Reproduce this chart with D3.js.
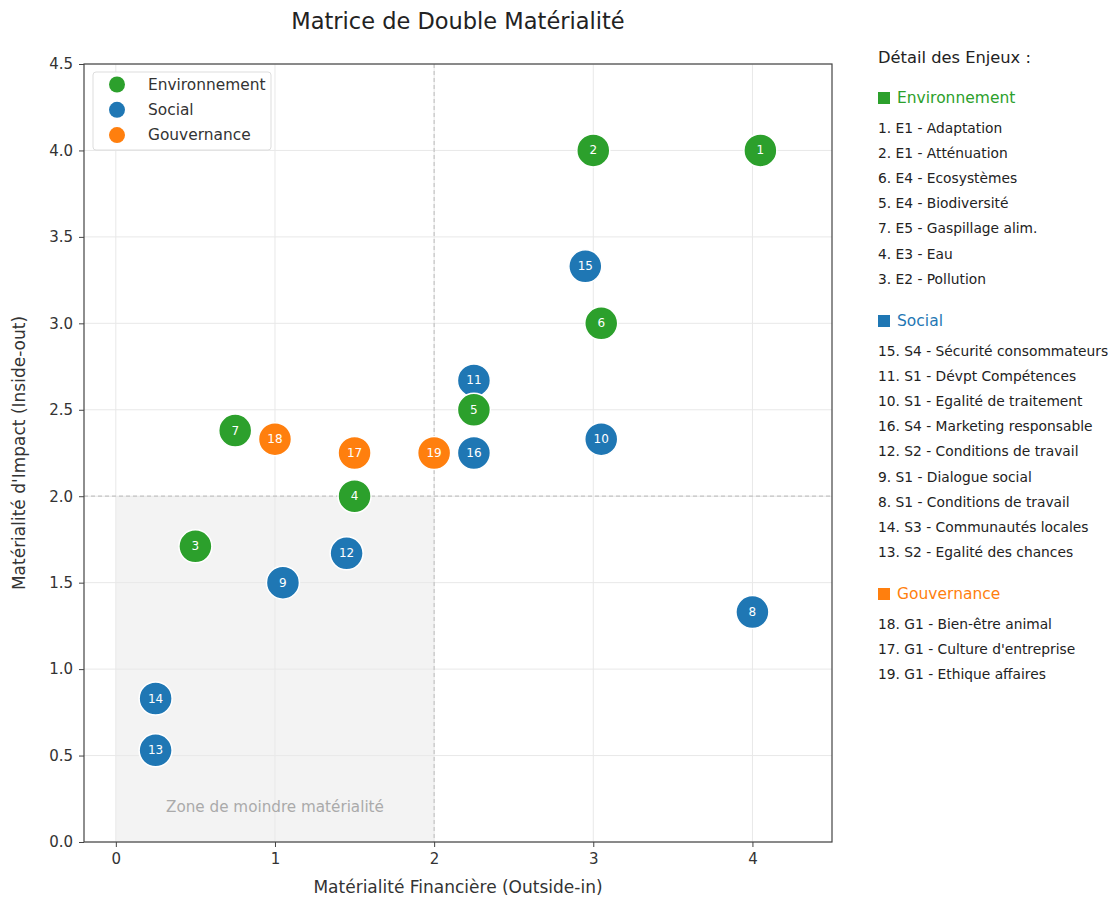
<!DOCTYPE html>
<html><head><meta charset="utf-8">
<script src="https://cdn.jsdelivr.net/npm/d3@7"></script>
<style>
body{margin:0;background:#fff;}
text{font-family:"DejaVu Sans",sans-serif;}
</style></head>
<body><svg id="c" width="1113" height="901"></svg>
<script>
const ids = [1,2,15,6,11,5,10,16,19,17,18,7,4,3,12,9,8,14,13];
const groups = ["E","E","S","E","S","E","S","S","G","G","G","E","E","E","S","S","S","S","S"];
const xFin = [4.05,3.0,2.95,3.05,2.25,2.25,3.05,2.25,2.0,1.5,1.0,0.75,1.5,0.5,1.45,1.05,4.0,0.25,0.25];
const yImp = [4.0,4.0,3.33,3.0,2.67,2.5,2.33,2.25,2.25,2.25,2.33,2.38,2.0,1.71,1.67,1.5,1.33,0.83,0.53];
const groupNames = ["Environnement","Social","Gouvernance"];
const groupKeys = ["E","S","G"];
const groupColors = ["#2ca02c","#1f77b4","#ff7f0e"];
const xTicks = [0,1,2,3,4];
const yTicks = [0,0.5,1,1.5,2,2.5,3,3.5,4,4.5];
const envItems = ["1. E1 - Adaptation","2. E1 - Atténuation","6. E4 - Ecosystèmes","5. E4 - Biodiversité","7. E5 - Gaspillage alim.","4. E3 - Eau","3. E2 - Pollution"];
const socItems = ["15. S4 - Sécurité consommateurs","11. S1 - Dévpt Compétences","10. S1 - Egalité de traitement","16. S4 - Marketing responsable","12. S2 - Conditions de travail","9. S1 - Dialogue social","8. S1 - Conditions de travail","14. S3 - Communautés locales","13. S2 - Egalité des chances"];
const govItems = ["18. G1 - Bien-être animal","17. G1 - Culture d'entreprise","19. G1 - Ethique affaires"];

const svg = d3.select("#c");
const L=84, R=832, T=64, B=842;
const x = d3.scaleLinear().domain([-0.2,4.5]).range([L,R]);
const y = d3.scaleLinear().domain([0,4.5]).range([B,T]);
const col = d3.scaleOrdinal().domain(groupKeys).range(groupColors);

// low zone
svg.append("rect").attr("x",x(0)).attr("y",y(2)).attr("width",x(2)-x(0)).attr("height",y(0)-y(2)).attr("fill","#f3f3f3");
// grid
svg.append("g").selectAll("line").data(xTicks).join("line")
  .attr("x1",d=>x(d)).attr("x2",d=>x(d)).attr("y1",T).attr("y2",B).attr("stroke","#e8e8e8").attr("stroke-width",1);
svg.append("g").selectAll("line").data(yTicks).join("line")
  .attr("y1",d=>y(d)).attr("y2",d=>y(d)).attr("x1",L).attr("x2",R).attr("stroke","#e8e8e8").attr("stroke-width",1);
// dashed thresholds
svg.append("line").attr("x1",x(2)).attr("x2",x(2)).attr("y1",T).attr("y2",B).attr("stroke","#c4c4c4").attr("stroke-dasharray","4,3").attr("stroke-width",1.2);
svg.append("line").attr("y1",y(2)).attr("y2",y(2)).attr("x1",L).attr("x2",R).attr("stroke","#c4c4c4").attr("stroke-dasharray","4,3").attr("stroke-width",1.2);
svg.append("text").attr("x",x(1)).attr("y",y(0.2)).attr("text-anchor","middle").attr("dominant-baseline","middle")
  .attr("font-size",15.2).attr("fill","#aaa").text("Zone de moindre matérialité");

// axes
const xa = svg.append("g").attr("transform",`translate(0,${B})`).call(d3.axisBottom(x).tickValues(xTicks).tickFormat(d3.format("d")).tickSize(5).tickPadding(6));
const ya = svg.append("g").attr("transform",`translate(${L},0)`).call(d3.axisLeft(y).tickValues(yTicks).tickFormat(d3.format(".1f")).tickSize(5).tickPadding(6));
[xa,ya].forEach(a=>{a.select(".domain").remove();a.selectAll("line").attr("stroke","#444");a.selectAll("text").attr("font-size",15).attr("fill","#333").attr("font-family","'DejaVu Sans',sans-serif");});
svg.append("rect").attr("x",L).attr("y",T).attr("width",R-L).attr("height",B-T).attr("fill","none").attr("stroke","#444").attr("stroke-width",1.2);

// points
const data = ids.map((id,i)=>({id,g:groups[i],x:xFin[i],y:yImp[i]}));
const pts = svg.append("g").selectAll("g").data(data).join("g").attr("transform",d=>`translate(${x(d.x)},${y(d.y)})`);
pts.append("circle").attr("r",16.5).attr("fill",d=>col(d.g)).attr("stroke","#fff").attr("stroke-width",1.5);
pts.append("text").attr("text-anchor","middle").attr("dominant-baseline","central").attr("font-size",12).attr("fill","#fff").text(d=>d.id);

// legend
const lg = svg.append("g");
lg.append("rect").attr("x",93).attr("y",72).attr("width",178).attr("height",78).attr("rx",3).attr("fill","#fff").attr("fill-opacity",0.9).attr("stroke","#ddd");
groupNames.forEach((n,i)=>{
  lg.append("circle").attr("cx",117).attr("cy",84.5+i*25.3).attr("r",8).attr("fill",groupColors[i]);
  lg.append("text").attr("x",148).attr("y",84.5+i*25.3).attr("dominant-baseline","central").attr("font-size",15.4).attr("fill","#333").text(n);
});

// titles
svg.append("text").attr("x",(L+R)/2).attr("y",22).attr("text-anchor","middle").attr("dominant-baseline","middle").attr("font-size",22.5).attr("fill","#222").text("Matrice de Double Matérialité");
svg.append("text").attr("x",(L+R)/2).attr("y",888).attr("text-anchor","middle").attr("dominant-baseline","middle").attr("font-size",17).attr("fill","#333").text("Matérialité Financière (Outside-in)");
svg.append("text").attr("transform",`translate(20,${(T+B)/2}) rotate(-90)`).attr("text-anchor","middle").attr("dominant-baseline","middle").attr("font-size",17).attr("fill","#333").text("Matérialité d'Impact (Inside-out)");

// right panel
const px = 878;
svg.append("text").attr("x",px).attr("y",58).attr("dominant-baseline","middle").attr("font-size",16.3).attr("fill","#222").text("Détail des Enjeux :");
function section(name,color,items,y0){
  svg.append("rect").attr("x",px).attr("y",y0-6).attr("width",12).attr("height",12).attr("fill",color);
  svg.append("text").attr("x",px+19).attr("y",y0).attr("dominant-baseline","middle").attr("font-size",15.5).attr("fill",color).text(name);
  svg.append("g").selectAll("text").data(items).join("text").attr("x",px).attr("y",(d,i)=>y0+30.5+i*25.2)
    .attr("dominant-baseline","middle").attr("font-size",13.8).attr("fill","#222").text(d=>d);
}
section(groupNames[0],groupColors[0],envItems,98);
section(groupNames[1],groupColors[1],socItems,321);
section(groupNames[2],groupColors[2],govItems,594);
</script></body></html>
